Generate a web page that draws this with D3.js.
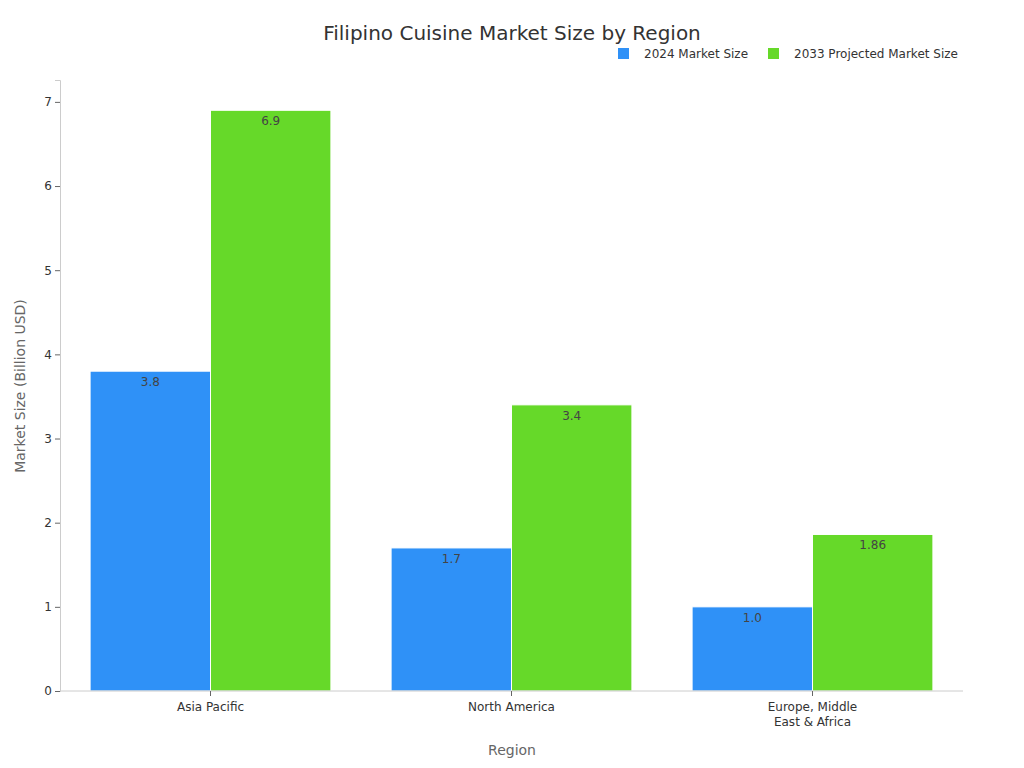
<!DOCTYPE html>
<html>
<head>
<meta charset="utf-8">
<script src="https://cdn.jsdelivr.net/npm/d3@7"></script>
<style>
body { margin: 0; background: #fff; font-family: "DejaVu Sans", sans-serif; }
</style>
</head>
<body>
<script>
const width = 1024;
const height = 768;

// Data
const regions = ["Asia Pacific", "North America", "Europe, Middle East & Africa"];
const regionLines = [["Asia Pacific"], ["North America"], ["Europe, Middle", "East & Africa"]];
const series = ["2024 Market Size", "2033 Projected Market Size"];
const values2024 = [3.8, 1.7, 1.0];
const values2033 = [6.9, 3.4, 1.86];
const labels2024 = ["3.8", "1.7", "1.0"];
const labels2033 = ["6.9", "3.4", "1.86"];
const colors = ["#2f91f7", "#66d929"];
const yTicks = [0, 1, 2, 3, 4, 5, 6, 7];

const margin = {top: 80, right: 61, bottom: 77, left: 60};

const svg = d3.select("body").append("svg")
    .attr("width", width)
    .attr("height", height);

const x = d3.scaleBand()
    .domain(regions)
    .range([margin.left, width - margin.right])
    .paddingInner(0.2)
    .paddingOuter(0.1);

const xSub = d3.scaleBand()
    .domain(series)
    .range([0, x.bandwidth()]);

const y = d3.scaleLinear()
    .domain([0, 7.26])
    .range([height - margin.bottom, margin.top]);

//Title
svg.append("text")
    .attr("x", 512)
    .attr("y", 40)
    .attr("text-anchor", "middle")
    .style("font-size", "20px")
    .style("fill", "#333")
    .text("Filipino Cuisine Market Size by Region");

//Legend
const legend = svg.append("g").attr("transform", "translate(618, 48)");
series.forEach((s, i) => {
    const lx = i === 0 ? 0 : 150;
    legend.append("rect").attr("x", lx).attr("y", 0).attr("width", 11).attr("height", 11).attr("fill", colors[i]);
    legend.append("text").attr("x", lx + 26).attr("y", 10)
        .style("font-size", "12px").style("fill", "#333").text(s);
});

//Bars
const data = [values2024, values2033];
const labels = [labels2024, labels2033];
series.forEach((s, si) => {
    regions.forEach((r, ri) => {
        const v = data[si][ri];
        svg.append("rect")
            .attr("x", x(r) + xSub(s))
            .attr("y", y(v))
            .attr("width", xSub.bandwidth())
            .attr("height", y(0) - y(v))
            .attr("fill", colors[si])
            .attr("stroke", "#fff")
            .attr("stroke-width", 1);
        svg.append("text")
            .attr("x", x(r) + xSub(s) + xSub.bandwidth() / 2)
            .attr("y", y(v) + 15)
            .attr("text-anchor", "middle")
            .style("font-size", "12px")
            .style("fill", "#444")
            .text(labels[si][ri]);
    });
});

//Y axis
const yAxis = svg.append("g")
    .attr("transform", `translate(${margin.left},0)`)
    .call(d3.axisLeft(y).tickValues(yTicks).tickFormat(d3.format("d")).tickSize(5));
yAxis.select(".domain").attr("stroke", "#ccc");
yAxis.selectAll(".tick line").attr("stroke", "#666");
yAxis.selectAll("text").style("font-size", "12px").style("fill", "#333").attr("font-family", "DejaVu Sans");

//X axis
const xAxis = svg.append("g")
    .attr("transform", `translate(0,${height - margin.bottom})`)
    .call(d3.axisBottom(x).tickSize(5).tickFormat(""));
xAxis.select(".domain").attr("stroke", "#ccc").attr("d", `M${margin.left},0H${width - margin.right}`);
xAxis.selectAll(".tick line").attr("stroke", "#666");
regions.forEach((r, i) => {
    regionLines[i].forEach((line, li) => {
        svg.append("text")
            .attr("x", x(r) + x.bandwidth() / 2)
            .attr("y", height - margin.bottom + 20 + li * 15)
            .attr("text-anchor", "middle")
            .style("font-size", "12px")
            .style("fill", "#333")
            .text(line);
    });
});

//Axis titles
svg.append("text")
    .attr("x", 512)
    .attr("y", 755)
    .attr("text-anchor", "middle")
    .style("font-size", "14px")
    .style("fill", "#666")
    .text("Region");

svg.append("text")
    .attr("transform", "translate(25, 386) rotate(-90)")
    .attr("text-anchor", "middle")
    .style("font-size", "14px")
    .style("fill", "#666")
    .text("Market Size (Billion USD)");
</script>
</body>
</html>
